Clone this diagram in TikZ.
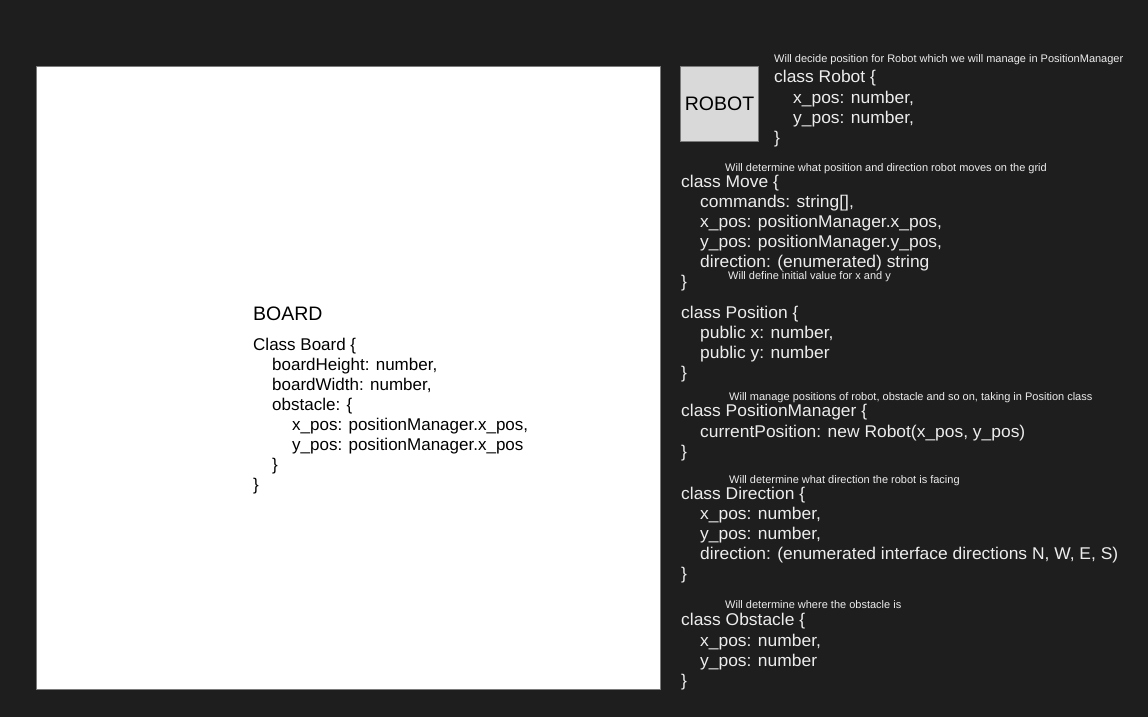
\documentclass[tikz,border=0pt]{standalone}
\usepackage{fontspec}
\setmainfont{Liberation Sans}
\newfontfamily\panelfont[FakeStretch=1.025]{Liberation Sans}
\definecolor{canvas}{HTML}{1E1E1E}
\definecolor{inkwhite}{HTML}{EDEDED}
\definecolor{edgegrey}{HTML}{7A7A7A}
\definecolor{robotgrey}{HTML}{D9D9D9}
\tikzset{
	codeline/.style={anchor=base west, inner sep=0pt, text=inkwhite, font=\panelfont\fontsize{17}{20}\selectfont},
	noteline/.style={anchor=base west, inner sep=0pt, text=inkwhite, font=\fontsize{11}{13}\selectfont},
	boardline/.style={anchor=base west, inner sep=0pt, text=black, font=\fontsize{17}{20}\selectfont},
}

\begin{document}
\begin{tikzpicture}[x=1pt, y=-1pt]
			%%%%% START %%%%%
			
			\fill[canvas] (0, 0) rectangle (1148, 717);
			\useasboundingbox (0, 0) rectangle (1148, 717);
			
			%%%%% BOARD %%%%%
			\draw[fill=white, draw=edgegrey, line width=0.8pt] (36, 66) rectangle (660, 689);
			\node[boardline, font=\fontsize{19.5}{22}\selectfont] (boardTitle) at (253, 320) {BOARD};
			\node[boardline] (boardHead) at (253, 350) {Class Board \{};
			\node[boardline] (boardHeight) at (272, 370) {boardHeight: number,};
			\node[boardline] (boardWidth) at (272, 390) {boardWidth: number,};
			\node[boardline] (boardObst) at (272, 410) {obstacle: \{};
			\node[boardline] (boardObstX) at (292, 430) {x\_pos: positionManager.x\_pos,};
			\node[boardline] (boardObstY) at (292, 450) {y\_pos: positionManager.x\_pos};
			\node[boardline] (boardObstEnd) at (272, 470) {\}};
			\node[boardline] (boardEnd) at (253, 490) {\}};
			
			%%%%% ROBOT %%%%%
			\node[draw=edgegrey, fill=robotgrey, line width=0.8pt, minimum width=78pt, minimum height=75pt, inner sep=0pt, font=\fontsize{19.5}{22}\selectfont] (robot) at (719.5, 103.5) {ROBOT};
			\node[noteline] (robotNote) at (774, 62.7) {Will decide position for Robot which we will manage in PositionManager};
			\node[codeline] (robotHead) at (774, 82) {class Robot \{};
			\node[codeline] (robotX) at (793, 103) {x\_pos: number,};
			\node[codeline] (robotY) at (793, 123) {y\_pos: number,};
			\node[codeline] (robotEnd) at (774, 143) {\}};
			
			%%%%% MOVE %%%%%
			\node[noteline] (moveNote) at (725, 171) {Will determine what position and direction robot moves on the grid};
			\node[codeline] (moveHead) at (681, 187) {class Move \{};
			\node[codeline] (moveCmd) at (700, 207) {commands: string[],};
			\node[codeline] (moveX) at (700, 227) {x\_pos: positionManager.x\_pos,};
			\node[codeline] (moveY) at (700, 247) {y\_pos: positionManager.y\_pos,};
			\node[codeline] (moveDir) at (700, 267) {direction: (enumerated) string};
			\node[noteline] (moveNoteB) at (728, 279) {Will define initial value for x and y};
			\node[codeline] (moveEnd) at (681, 287) {\}};
			
			%%%%% POSITION %%%%%
			\node[codeline] (posHead) at (681, 318) {class Position \{};
			\node[codeline] (posX) at (700, 338) {public x: number,};
			\node[codeline] (posY) at (700, 358) {public y: number};
			\node[codeline] (posEnd) at (681, 378) {\}};
			
			%%%%% POSITION MANAGER %%%%%
			\node[noteline] (pmNote) at (729, 400) {Will manage positions of robot, obstacle and so on, taking in Position class};
			\node[codeline] (pmHead) at (681, 416) {class PositionManager \{};
			\node[codeline] (pmCur) at (700, 437) {currentPosition: new Robot(x\_pos, y\_pos)};
			\node[codeline] (pmEnd) at (681, 457) {\}};
			
			%%%%% DIRECTION %%%%%
			\node[noteline] (dirNote) at (729, 483) {Will determine what direction the robot is facing};
			\node[codeline] (dirHead) at (681, 499) {class Direction \{};
			\node[codeline] (dirX) at (700, 519) {x\_pos: number,};
			\node[codeline] (dirY) at (700, 539) {y\_pos: number,};
			\node[codeline] (dirDir) at (700, 559) {direction: (enumerated interface directions N, W, E, S)};
			\node[codeline] (dirEnd) at (681, 579) {\}};
			
			%%%%% OBSTACLE %%%%%
			\node[noteline] (obsNote) at (725, 608) {Will determine where the obstacle is};
			\node[codeline] (obsHead) at (681, 625) {class Obstacle \{};
			\node[codeline] (obsX) at (700, 646) {x\_pos: number,};
			\node[codeline] (obsY) at (700, 666) {y\_pos: number};
			\node[codeline] (obsEnd) at (681, 686) {\}};
			
			%%%%% END %%%%%
\end{tikzpicture}
\end{document}
